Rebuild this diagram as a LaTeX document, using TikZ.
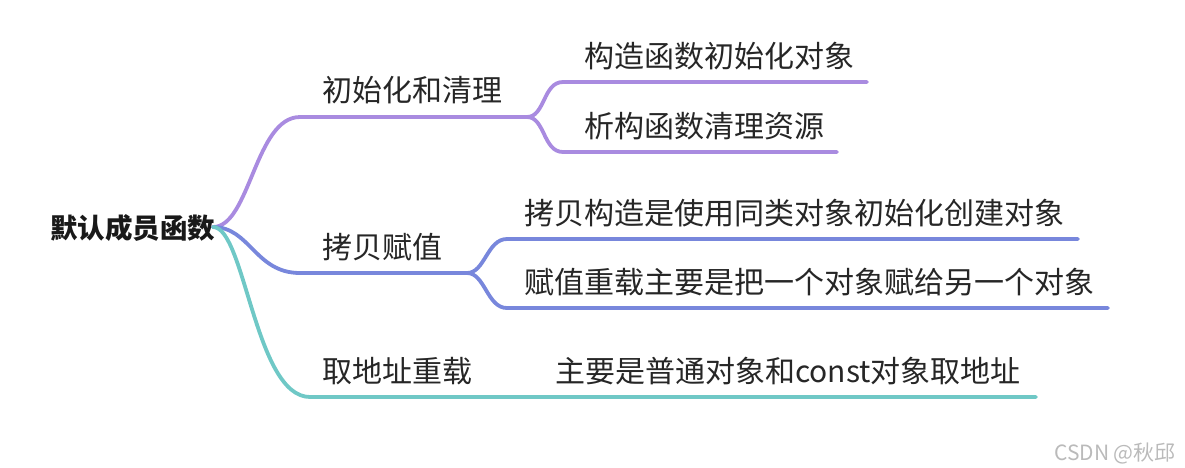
\documentclass[tikz,border=0pt]{standalone}
\usepackage{fontspec}
\setmainfont{Noto Sans CJK SC}
\usepackage{xcolor}
\usepackage{tikz}
\usetikzlibrary{positioning}

\definecolor{mmpurple}{HTML}{A98BE0}
\definecolor{mmblue}{HTML}{7887DC}
\definecolor{mmteal}{HTML}{6FC8C6}

\begin{document}
\begin{tikzpicture}[x=1pt, y=-1pt,
  txt/.style={anchor=base west, inner sep=0pt, font=\fontsize{30pt}{36pt}\selectfont, text=black!85},
  hub/.style={anchor=base west, inner sep=0pt, font=\fontsize{27.5pt}{33pt}\selectfont\bfseries, text=black!90},
  edge/.style={line width=3.8pt, line cap=round}]
\useasboundingbox (0,0) rectangle (1185,467);
\node[hub] (root) at (50,238) {默认成员函数};
\node[txt] (init) at (322,101) {初始化和清理};
\node[txt] (copy) at (322,258) {拷贝赋值};
\node[txt] (addr) at (322,382) {取地址重载};
\node[txt] (ctor) at (584,67) {构造函数初始化对象};
\node[txt] (dtor) at (584,137) {析构函数清理资源};
\node[txt] (cpctor) at (524,224) {拷贝构造是使用同类对象初始化创建对象};
\node[txt] (assign) at (524,293) {赋值重载主要是把一个对象赋给另一个对象};
\node[txt] (addrleaf) at (555,382) {主要是普通对象和const对象取地址};
\node[anchor=base west, inner sep=0pt, font=\fontsize{21pt}{25pt}\selectfont, text=black!27] (wm) at (1054,460) {CSDN @秋邱};
\coordinate (r) at (213,227);
\coordinate (initL) at (300,117);
\coordinate (initF) at (527,117);
\coordinate (ctorL) at (563,82);
\coordinate (ctorR) at (867,82);
\coordinate (dtorL) at (563,152);
\coordinate (dtorR) at (837,152);
\coordinate (copyL) at (300,273);
\coordinate (copyF) at (467,273);
\coordinate (cpctorL) at (507,239);
\coordinate (cpctorR) at (1078,239);
\coordinate (assignL) at (507,308);
\coordinate (assignR) at (1108,308);
\coordinate (addrL) at (310,397);
\coordinate (addrR) at (1036,397);
\draw[edge, mmpurple] (r) .. controls (250,227) and (255,117) .. (initL) -- (initF);
\draw[edge, mmpurple] (initF) .. controls (545,117) and (543,82) .. (ctorL) -- (ctorR);
\draw[edge, mmpurple] (initF) .. controls (545,117) and (543,152) .. (dtorL) -- (dtorR);
\draw[edge, mmblue] (r) .. controls (250,227) and (255,273) .. (copyL) -- (copyF);
\draw[edge, mmblue] (copyF) .. controls (485,273) and (487,239) .. (cpctorL) -- (cpctorR);
\draw[edge, mmblue] (copyF) .. controls (485,273) and (487,308) .. (assignL) -- (assignR);
\draw[edge, mmteal] (r) .. controls (245,227) and (255,397) .. (addrL) -- (addrR);
\end{tikzpicture}
\end{document}
